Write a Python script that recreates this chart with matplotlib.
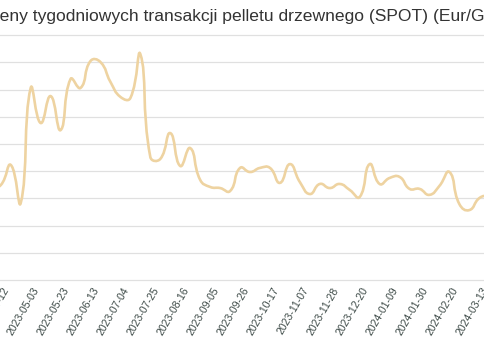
import matplotlib
matplotlib.use("Agg")
import matplotlib.pyplot as plt
import numpy as np
from matplotlib.path import Path
from matplotlib.patches import PathPatch
from matplotlib.transforms import ScaledTranslation

title = "Ceny tygodniowych transakcji pelletu drzewnego (SPOT) (Eur/GJ)"

dates = [
    "2023-04-05", "2023-04-12", "2023-04-19", "2023-04-26", "2023-05-03", "2023-05-10",
    "2023-05-17", "2023-05-23", "2023-05-30", "2023-06-06", "2023-06-13", "2023-06-20",
    "2023-06-27", "2023-07-04", "2023-07-11", "2023-07-18", "2023-07-25", "2023-08-01",
    "2023-08-08", "2023-08-16", "2023-08-22", "2023-08-29", "2023-09-05", "2023-09-12",
    "2023-09-19", "2023-09-26", "2023-10-03", "2023-10-10", "2023-10-17", "2023-10-24",
    "2023-10-31", "2023-11-07", "2023-11-14", "2023-11-21", "2023-11-28", "2023-12-05",
    "2023-12-12", "2023-12-20", "2023-12-27", "2024-01-03", "2024-01-09", "2024-01-16",
    "2024-01-23", "2024-01-30", "2024-02-06", "2024-02-13", "2024-02-20", "2024-02-27",
    "2024-03-06", "2024-03-13", "2024-03-20",
]

prices = [
    15.42, 15.49, 16.23, 14.83, 19.06, 17.77, 18.76, 17.51, 19.39, 19.06,
    20.05, 20.01, 19.28, 18.73, 18.69, 20.30, 16.52, 16.45, 17.40, 16.19,
    16.85, 15.68, 15.42, 15.38, 15.27, 16.12, 15.97, 16.12, 16.12, 15.57,
    16.26, 15.60, 15.16, 15.53, 15.38, 15.53, 15.31, 15.05, 16.26, 15.53,
    15.75, 15.79, 15.35, 15.35, 15.13, 15.46, 15.97, 14.79, 14.57, 15.01,
    15.13,
]

y_ticks = [12, 13, 14, 15, 16, 17, 18, 19, 20, 21]

W, H = 485, 360
fig = plt.figure(figsize=(W / 100, H / 100), dpi=100)
ax = fig.add_axes([0, 80 / H, 1, 253 / H])
ax.set_xlim(0.92, 49.57)
ax.set_ylim(12, 21.3)

for s in ax.spines.values():
    s.set_visible(False)

ax.set_yticks(y_ticks)
ax.set_yticklabels([])
ax.tick_params(axis="y", length=0)
ax.yaxis.grid(True, color="#e0e0e0", linewidth=0.9)
for gl in ax.get_ygridlines():
    gl.set_clip_on(False)
ax.set_axisbelow(True)

x = np.arange(len(dates))
tick_pos = x[1::3]
ax.set_xticks(tick_pos)
ax.set_xticklabels([dates[i] for i in tick_pos], rotation=60, ha="right", va="top",
                   rotation_mode="anchor", fontsize=7.6, color="#3d4a47",
                   family=["Liberation Sans", "DejaVu Sans"])
ax.tick_params(axis="x", length=0, pad=4)
offset = ScaledTranslation(2 / 100, 0, fig.dpi_scale_trans)
for lab in ax.get_xticklabels():
    lab.set_transform(lab.get_transform() + offset)

# smooth line (echarts-like bezier) computed in display space
fig.canvas.draw()
pts = ax.transData.transform(np.column_stack([x, prices]))
smooth = 0.5
n = len(pts)
verts = [pts[0]]
codes = [Path.MOVETO]
cps_in = [None] * n
cps_out = [None] * n
for i in range(n):
    p = pts[i]
    prev = pts[i - 1] if i > 0 else p
    nxt = pts[i + 1] if i < n - 1 else p
    v = nxt - prev
    l0 = np.hypot(*(p - prev))
    l1 = np.hypot(*(nxt - p))
    r = l1 / (l0 + l1) if (l0 + l1) > 0 else 0.5
    cps_in[i] = p - v * smooth * (1 - r)
    cps_out[i] = p + v * smooth * r
for i in range(n - 1):
    verts += [cps_out[i], cps_in[i + 1], pts[i + 1]]
    codes += [Path.CURVE4] * 3
verts = ax.transData.inverted().transform(np.array(verts))
path = Path(verts, codes)
ax.add_patch(PathPatch(path, facecolor="none", edgecolor="#eed3a1", linewidth=1.9,
                       capstyle="round", joinstyle="round"))

# title, left-cropped like the reference
renderer = fig.canvas.get_renderer()
tmp = fig.text(0, 0, "C", fontsize=12.6, family=["Liberation Sans", "DejaVu Sans"])
wC = tmp.get_window_extent(renderer).width
tmp.remove()
fig.text(-(wC + 0.5) / W, (H - 21) / H, title, fontsize=12.6, color="#333333",
         ha="left", va="baseline", family=["Liberation Sans", "DejaVu Sans"])

fig.savefig("out.png", dpi=100)
